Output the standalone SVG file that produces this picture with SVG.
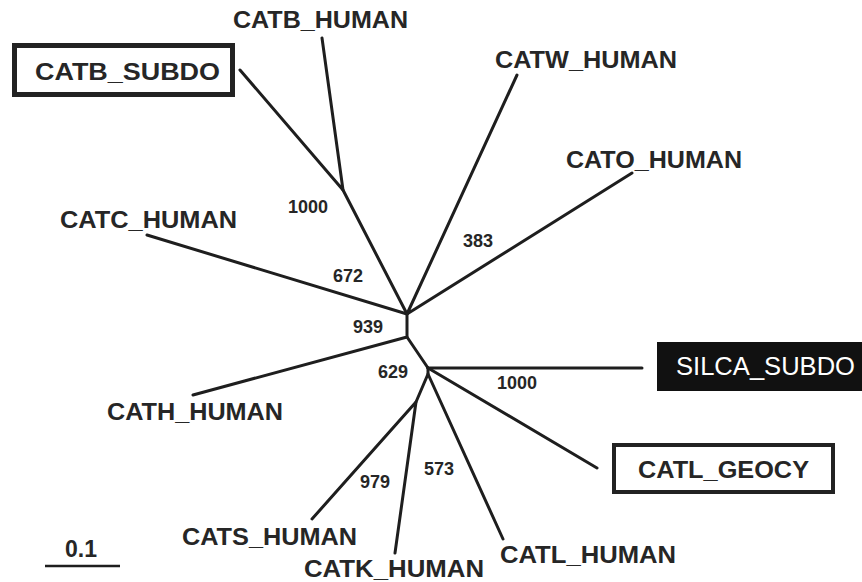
<svg xmlns="http://www.w3.org/2000/svg" width="862" height="582" viewBox="0 0 862 582">
<style>
.lbl{font-family:"Liberation Sans",Arial,sans-serif;font-weight:bold;font-size:24px;fill:#262626}
.num{font-family:"Liberation Sans",Arial,sans-serif;font-weight:bold;font-size:18px;fill:#262626}
.edge{stroke:#1e1e1e;stroke-width:3;fill:none;stroke-linecap:round;stroke-linejoin:round}
.box{fill:#fff;stroke:#222}
</style>
<rect width="862" height="582" fill="#fff"/>
<g id="connectors" class="edge">
<path d="M240,70 L343,190 L322,38"/>
<path d="M343,190 L407,314"/>
<path d="M147,235 L407,314"/>
<path d="M517,75 L407,314 L632,173"/>
<path d="M407,314 L407,337 L193,395"/>
<path d="M407,337 L428,368"/>
<path d="M428,368 L642,368"/>
<path d="M428,368 L597,468"/>
<path d="M428,368 L428,374 L416,402"/>
<path d="M428,374 L503,539"/>
<path d="M312,519 L416,402 L395,553"/>
</g>
<g id="CATB_SUBDO">
<rect class="box" x="14.5" y="45.5" width="218" height="49" stroke-width="5"/>
<text class="lbl" x="35" y="80" font-size="25" textLength="185" lengthAdjust="spacingAndGlyphs">CATB_SUBDO</text>
</g>
<g id="CATB_HUMAN"><text class="lbl" x="233" y="28" textLength="175" lengthAdjust="spacingAndGlyphs">CATB_HUMAN</text></g>
<g id="CATW_HUMAN"><text class="lbl" x="495" y="68" textLength="182" lengthAdjust="spacingAndGlyphs">CATW_HUMAN</text></g>
<g id="CATO_HUMAN"><text class="lbl" x="566" y="168" textLength="176" lengthAdjust="spacingAndGlyphs">CATO_HUMAN</text></g>
<g id="CATC_HUMAN"><text class="lbl" x="60" y="228" textLength="177" lengthAdjust="spacingAndGlyphs">CATC_HUMAN</text></g>
<g id="CATH_HUMAN"><text class="lbl" x="107" y="420" textLength="176" lengthAdjust="spacingAndGlyphs">CATH_HUMAN</text></g>
<g id="CATS_HUMAN"><text class="lbl" x="182" y="545" textLength="175" lengthAdjust="spacingAndGlyphs">CATS_HUMAN</text></g>
<g id="CATK_HUMAN"><text class="lbl" x="304" y="577" textLength="180" lengthAdjust="spacingAndGlyphs">CATK_HUMAN</text></g>
<g id="CATL_HUMAN"><text class="lbl" x="500" y="563" textLength="176" lengthAdjust="spacingAndGlyphs">CATL_HUMAN</text></g>
<g id="SILCA_SUBDO">
<rect x="657" y="342" width="206" height="49" fill="#111"/>
<text x="676" y="375" font-family="'Liberation Sans',Arial,sans-serif" font-size="25" fill="#fff" textLength="179" lengthAdjust="spacingAndGlyphs">SILCA_SUBDO</text>
</g>
<g id="CATL_GEOCY">
<rect class="box" x="614" y="445" width="219" height="47" stroke-width="4"/>
<text class="lbl" x="638" y="478" font-size="25" textLength="171" lengthAdjust="spacingAndGlyphs">CATL_GEOCY</text>
</g>
<g id="bootstrap">
<text class="num" x="288" y="213">1000</text>
<text class="num" x="333" y="282">672</text>
<text class="num" x="463" y="247">383</text>
<text class="num" x="353" y="333">939</text>
<text class="num" x="378" y="378">629</text>
<text class="num" x="497" y="389">1000</text>
<text class="num" x="360" y="488">979</text>
<text class="num" x="424" y="475">573</text>
</g>
<g id="scale">
<line x1="45" y1="566" x2="120" y2="566" stroke="#1e1e1e" stroke-width="2.5"/>
<text class="lbl" x="65" y="557" font-size="21" textLength="32" lengthAdjust="spacingAndGlyphs">0.1</text>
</g>
</svg>
